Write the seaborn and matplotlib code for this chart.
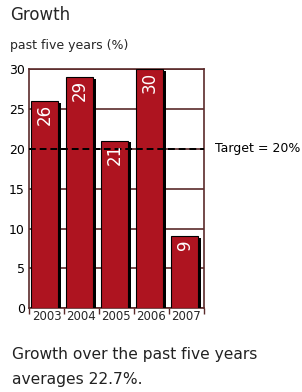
import matplotlib
matplotlib.use("Agg")
import matplotlib.pyplot as plt
import matplotlib.patheffects as pe
import seaborn as sns
import pandas as pd

# data
years = ["2003", "2004", "2005", "2006", "2007"]
growth = [26, 29, 21, 30, 9]
target = 20

bar_color = "#ae1420"
grid_color = "#5b2b2b"

sns.set_theme(style="white")
plt.rcParams["font.family"] = ["DejaVu Sans"]

df = pd.DataFrame({"year": years, "growth": growth})

fig = plt.figure(figsize=(3.02, 3.92), dpi=100)
ax = fig.add_axes([0.096, 0.214, 0.579, 0.609])

sns.barplot(data=df, x="year", y="growth", color=bar_color, saturation=1,
            width=0.76, edgecolor="black", linewidth=0.8, ax=ax, zorder=3)
for p in ax.patches:
    p.set_x(p.get_x() - 0.05)  # leave room for the drop shadow on the right
    p.set_path_effects([pe.SimplePatchShadow(offset=(2.2, -1), shadow_rgbFace="black", alpha=1),
                        pe.Normal()])

# value labels inside the bars
for i, v in enumerate(growth):
    ax.text(i - 0.05, v - 0.35, str(v), rotation=90, ha="center", va="top",
            color="white", fontsize=12, zorder=5)

ax.axhline(target, color="black", linestyle=(0, (3.5, 2)), linewidth=1.4, zorder=4)
ax.text(1.065, target, f"Target = {target}%", transform=ax.get_yaxis_transform(),
        ha="left", va="center", fontsize=9, color="black")

ax.set_ylim(0, 30)
ax.set_xlim(-0.5, 4.5)
ax.set_yticks([0, 5, 10, 15, 20, 25, 30])
ax.yaxis.grid(True, color=grid_color, linewidth=1.2, zorder=0)
ax.set_axisbelow(True)
for s in ax.spines.values():
    s.set_color(grid_color)
    s.set_linewidth(1.2)

ax.set_xlabel("")
ax.set_ylabel("")
ax.tick_params(axis="y", length=0, pad=3, labelsize=9, colors="black")
ax.tick_params(axis="x", which="major", length=0, pad=1.5, labelsize=8.5)
ax.set_xticks([x - 0.5 for x in range(len(years) + 1)], minor=True)
ax.tick_params(axis="x", which="minor", direction="out", length=4,
               width=1, color=grid_color, bottom=True)

fig.text(0.033, 0.962, "Growth", fontsize=12, ha="left", va="center")
fig.text(0.033, 0.883, "past five years (%)", fontsize=9, ha="left", va="center")
fig.text(0.04, 0.114, "Growth over the past five years", fontsize=11.2,
         ha="left", va="top", color="#222222")
fig.text(0.04, 0.05, "averages 22.7%.", fontsize=11.2,
         ha="left", va="top", color="#222222")

fig.savefig("out.png", dpi=100)
plt.close(fig)
